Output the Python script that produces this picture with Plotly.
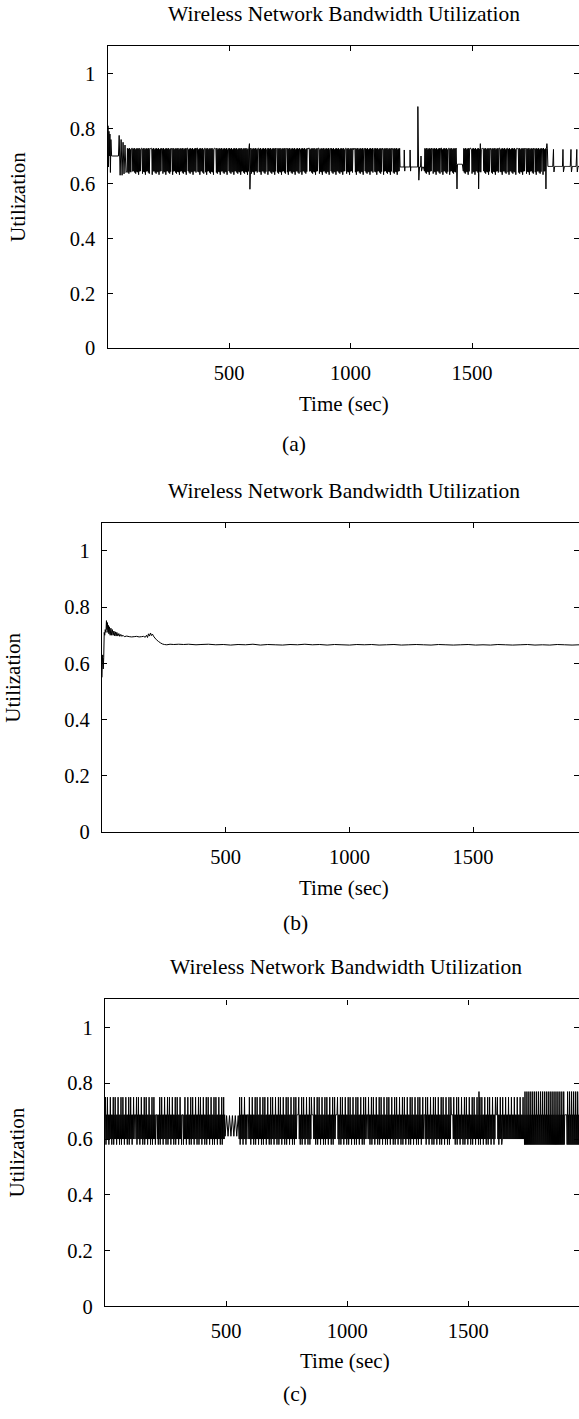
import plotly.graph_objects as go

W, H = 579, 1419
FONT = "Liberation Serif"
SAMPLE_DT = 2  # seconds between logged samples

# ---------------- (a) ----------------
a_intro_t = [0, 2, 4, 6, 8, 10, 12, 14, 17, 20, 45, 48, 52, 56, 60, 64, 68, 72, 76]
a_intro_u = [0.64, 0.81, 0.66, 0.79, 0.70, 0.78, 0.64, 0.76, 0.70, 0.70, 0.70, 0.775,
             0.63, 0.76, 0.63, 0.75, 0.635, 0.74, 0.64]
a_burst_spans = [[80, 1204], [1304, 1436], [1464, 1812]]
a_high_seq = [0.728, 0.726, 0.729, 0.724, 0.727]   # upper level while toggling
a_low_seq = [0.645, 0.640, 0.636, 0.643, 0.641, 0.632, 0.644]  # lower level
a_hold_t = [97, 139, 176, 221, 262, 326, 365, 399, 440, 495, 619, 653, 694, 735, 790,
            824, 865, 914, 978, 1012, 1053, 1095, 1129, 1170, 1335, 1369, 1403, 1492,
            1540, 1575, 1609, 1643, 1684, 1719, 1753, 1787]
a_hold_len = 5
a_quiet = [[1204, 1304, 0.660], [1436, 1464, 0.670], [1812, 1944, 0.662]]
a_event_t = [584, 586, 1221, 1223, 1245, 1247, 1277, 1281, 1290, 1292, 1438, 1527, 1534,
             1804, 1808, 1835, 1837, 1874, 1876, 1907, 1909, 1931, 1933]
a_event_u = [0.745, 0.579, 0.722, 0.645, 0.722, 0.645, 0.880, 0.612, 0.700, 0.645, 0.580,
             0.580, 0.745, 0.580, 0.745, 0.724, 0.642, 0.724, 0.642, 0.724, 0.642, 0.724,
             0.642]

# ---------------- (b) ----------------
b_t = [0, 1, 3, 5, 7, 9, 11, 13, 16, 18, 20, 22, 24, 26, 28, 30, 33, 36, 39, 42, 45, 48,
       51, 54, 57, 60, 64, 68, 72, 76, 80, 85, 90, 100, 110, 120, 130, 140, 150, 160, 168,
       175, 180, 184, 188, 192, 196, 200, 204, 208, 214, 220, 228, 236, 244, 252, 262,
       275, 290, 310, 330, 350, 380, 400, 430, 460, 490, 520, 550, 580, 610, 640, 670,
       700, 730, 760, 790, 820, 850, 880, 910, 940, 970, 1000, 1030, 1060, 1090, 1120,
       1150, 1180, 1210, 1240, 1270, 1300, 1330, 1360, 1390, 1420, 1450, 1480, 1510,
       1540, 1570, 1600, 1630, 1660, 1690, 1720, 1750, 1780, 1810, 1840, 1870, 1900, 1930]
b_u = [0.55, 0.60, 0.63, 0.58, 0.62, 0.71, 0.70, 0.72, 0.71, 0.752, 0.72, 0.745, 0.71,
       0.735, 0.705, 0.73, 0.70, 0.725, 0.70, 0.72, 0.70, 0.715, 0.698, 0.712, 0.697,
       0.71, 0.697, 0.706, 0.696, 0.703, 0.696, 0.700, 0.695, 0.697, 0.695, 0.694, 0.695,
       0.696, 0.694, 0.695, 0.696, 0.693, 0.700, 0.692, 0.705, 0.697, 0.708, 0.699, 0.704,
       0.697, 0.690, 0.684, 0.678, 0.673, 0.669, 0.667, 0.666, 0.668, 0.667, 0.668, 0.667,
       0.668, 0.666, 0.667, 0.668, 0.666, 0.667, 0.665, 0.667, 0.666, 0.668, 0.665, 0.667,
       0.666, 0.665, 0.667, 0.666, 0.668, 0.666, 0.667, 0.665, 0.667, 0.666, 0.665, 0.667,
       0.666, 0.667, 0.665, 0.666, 0.667, 0.665, 0.666, 0.667, 0.666, 0.665, 0.667, 0.666,
       0.665, 0.666, 0.667, 0.665, 0.666, 0.665, 0.667, 0.666, 0.665, 0.666, 0.667, 0.665,
       0.666, 0.665, 0.667, 0.666, 0.665, 0.666]

# ---------------- (c) ----------------
# recurring level sequences logged in each regime
c_patterns = {
    "std":  [0.60, 0.75, 0.58, 0.687, 0.60, 0.75, 0.60, 0.687, 0.58, 0.687, 0.60, 0.75,
             0.60, 0.687, 0.58, 0.687],
    "gap":  [0.61, 0.684],
    "mid":  [0.60, 0.75, 0.60, 0.687, 0.60, 0.687, 0.60, 0.75, 0.60, 0.687, 0.60, 0.687],
    "late": [0.58, 0.77, 0.58, 0.687, 0.58, 0.77, 0.58, 0.687, 0.58, 0.77, 0.58, 0.687],
}
c_segments = [[0, 496, "std", 2], [496, 554, "gap", 6], [554, 1640, "std", 2],
              [1640, 1732, "mid", 2], [1732, 1960, "late", 2]]
c_hold_t = [123, 211, 318, 588, 794, 854, 954, 1080, 1317, 1430, 1614, 1900]
c_hold_len = 5
c_hold_u = 0.687
c_event_t = [1544]
c_event_u = [0.77]

# axis extents and tick labels
x_max = [1940, 1928, 1957]
x_ticks = [500, 1000, 1500]
y_ticks = [0, 0.2, 0.4, 0.6, 0.8, 1]
y_ticktext = ["0", "0.2", "0.4", "0.6", "0.8", "1"]
title_text = "Wireless Network Bandwidth Utilization"
x_title = "Time (sec)"
y_title = "Utilization"
panel_tags = ["(a)", "(b)", "(c)"]


def merge_events(pts, ev_t, ev_u):
    for t, u in zip(ev_t, ev_u):
        pts[t] = u
    ts = sorted(pts)
    return ts, [pts[t] for t in ts]


def series_a():
    pts = dict(zip(a_intro_t, a_intro_u))
    for t0, t1 in a_burst_spans:
        for k, t in enumerate(range(t0, t1, SAMPLE_DT)):
            held = any(h <= t < h + a_hold_len for h in a_hold_t)
            hi = a_high_seq[(k // 2) % len(a_high_seq)]
            lo = a_low_seq[(k // 2) % len(a_low_seq)]
            pts[t] = hi if (held or k % 2) else lo
    for t0, t1, u in a_quiet:
        for t in range(t0, t1, 4):
            pts[t] = u
    return merge_events(pts, a_event_t, a_event_u)


def series_c():
    pts = {}
    for t0, t1, name, dt in c_segments:
        seq = c_patterns[name]
        for k, t in enumerate(range(t0, t1, dt)):
            held = any(h <= t < h + c_hold_len for h in c_hold_t)
            pts[t] = c_hold_u if held else seq[k % len(seq)]
    return merge_events(pts, c_event_t, c_event_u)


ta, ua = series_a()
tc, uc = series_c()
series = [(ta, ua), (b_t, b_u), (tc, uc)]

# plot frames in page pixels: left, top, bottom (right edge is the page edge)
frames = [(107.5, 46.5, 351.0), (102.0, 527.0, 838.3), (105.0, 1007.3, 1316.7)]
# text positions in page pixels
title_pos = [(344, 14), (344, 495), (346, 975)]
xtitle_pos = [(344, 407), (344, 895), (345, 1372)]
tag_pos = [(294, 447), (295, 930), (295, 1405)]
ytitle_pos = [(18.5, 199), (13, 683), (16.5, 1162)]

fig = go.Figure()
annotations = []


def px(x):
    return x / W


def py(y):
    return 1 - y / H


for i, ((t, u), (left, top, bottom)) in enumerate(zip(series, frames)):
    n = i + 1
    xs = "" if n == 1 else str(n)
    ov = str(n + 3)
    fig.add_trace(go.Scatter(x=t, y=u, mode="lines",
                             line=dict(color="black", width=1, simplify=False),
                             xaxis="x" + xs, yaxis="y" + xs, hoverinfo="skip",
                             showlegend=False))
    fig.add_trace(go.Scatter(x=[], y=[], xaxis="x" + xs, yaxis="y" + ov, showlegend=False))
    common = dict(ticks="inside", ticklen=5, tickwidth=1, tickcolor="black",
                  showgrid=False, zeroline=False,
                  tickfont=dict(family=FONT, size=20.5, color="black"))
    fig.update_layout(**{
        "xaxis" + xs: dict(domain=[px(left), 1], anchor="y" + xs, range=[0, x_max[i]],
                           tickvals=x_ticks, showline=True, linecolor="black",
                           linewidth=1.3, mirror="ticks", ticklabelstandoff=6, **common),
        "yaxis" + xs: dict(domain=[py(bottom), py(top)], anchor="x" + xs, range=[0, 1.1],
                           tickvals=y_ticks, ticktext=y_ticktext, showline=True,
                           linecolor="black", linewidth=1.3, ticklabelstandoff=7,
                           **common),
        "yaxis" + ov: dict(overlaying="y" + xs, side="right", anchor="x" + xs,
                           range=[0, 1.1], tickvals=y_ticks, showticklabels=False,
                           showline=False, **common),
    })
    for (x, y), text, size, angle in [(title_pos[i], title_text, 21.5, 0),
                                      (xtitle_pos[i], x_title, 21, 0),
                                      (tag_pos[i], panel_tags[i], 21.5, 0),
                                      (ytitle_pos[i], y_title, 21, -90)]:
        annotations.append(dict(x=px(x), y=py(y), xref="paper", yref="paper",
                                text=text, showarrow=False, textangle=angle,
                                xanchor="center", yanchor="middle",
                                font=dict(family=FONT, size=size, color="black")))

fig.update_layout(width=W, height=H, autosize=False,
                  margin=dict(l=0, r=0, t=0, b=0, pad=0),
                  paper_bgcolor="white", plot_bgcolor="white",
                  annotations=annotations, showlegend=False)

fig.write_html("out.html", config={"displayModeBar": False})
